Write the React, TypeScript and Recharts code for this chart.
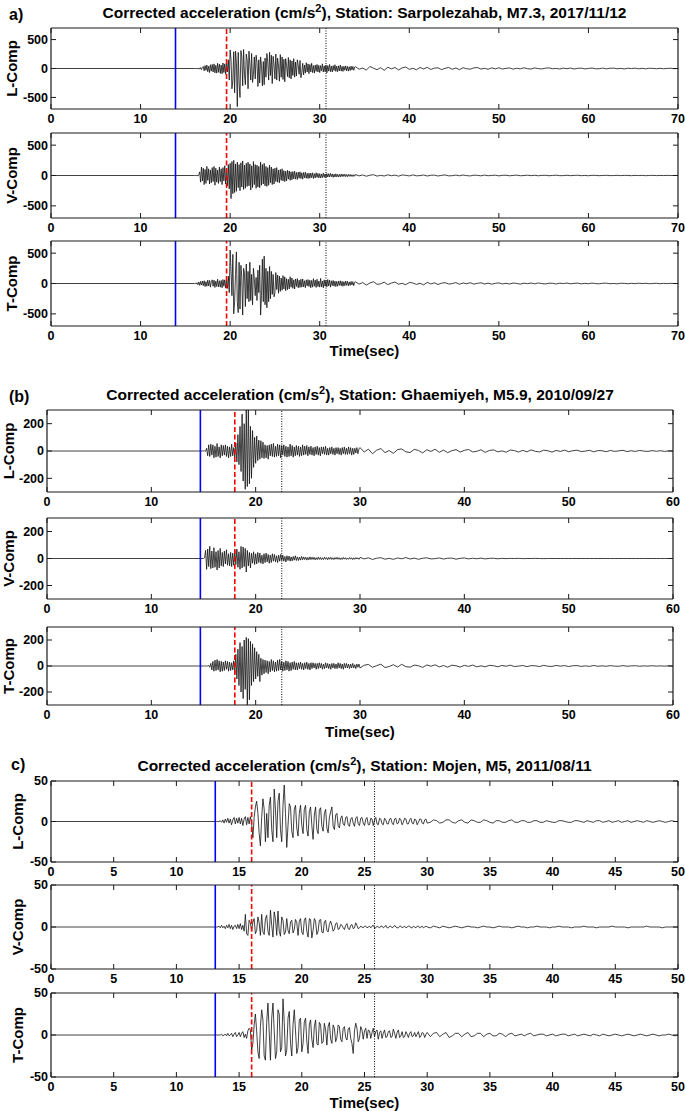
import React from 'react'
import { LineChart, Line, XAxis, YAxis, ReferenceLine } from 'recharts'

// sampling: main window every 0.1 s, then a coarser tail
const MAIN_STEP = 0.1

// ---------- a) Sarpolezahab, M7.3 ----------
const aMainStart = 16
const aTailStart = 34
const aTailStep = 0.4
const aTicksX = [0, 10, 20, 30, 40, 50, 60, 70]
const aTicksY = [-500, 0, 500]
const aMarks = { p: 13.9, s: 19.6, end: 30.7 }

const aL = [
  0, 2, -3, 5, -8, 10, -12, 15, -20, 18,
  35, -40, 50, -30, 60, -55, 40, -70, 65, -45,
  70, -60, 80, -75, 55, -80, 90, -65, 75, -85,
  60, -90, 95, -70, 80, -100, 110, -60, 150, -200,
  320, 150, -350, -200, 290, -420, 300, 100, -660, 280,
  -250, -500, 310, 200, -300, 330, -100, -280, 250, 150,
  -350, 300, 80, -200, 260, -240, -100, 200, -180, 230,
  100, -310, 150, -250, 200, 50, -300, 120, -280, 180,
  -150, 260, 100, -200, 280, -120, 230, -260, 210, 60,
  -180, 250, -200, 180, 40, -220, 240, -150, 200, -190,
  160, -230, 170, 50, -140, 190, -160, 150, -180, 130,
  -120, 170, -150, 110, -130, 150, 60, -100, 140, -160,
  -70, 90, -110, 60, -80, 100, -60, 80, -90, 70,
  -60, 90, -70, 50, -80, 60, -50, 70, -60, 55,
  -70, 50, -40, 80, -60, 45, -55, 60, -75, 50,
  -45, 70, -55, 40, -60, 50, -35, 65, -50, 40,
  -55, 45, -40, 60, -45, 35, -50, 40, -30, 45,
  -40, 35, -45, 30, -35, 40, -25, 35, -30, 25,
]
const aLTail = [
  30, -12, 8, -28, 35, 5, -20, 14, -30, 22,
  -6, 18, -25, 10, 26, -15, 4, -22, 18, -8,
  20, -16, 6, 12, -19, 3, 18, -14, 9, -21,
  14, -4, -12, 10, 17, -9, 2, -13, 11, -6,
  12, -10, 3, 9, -11, 5, -7, 12, -3, -9,
  10, -2, -8, 6, 11, -5, 2, -9, 7, -4,
  8, -9, 3, 6, -7, 1, 8, -5, -3, 7,
  -6, 4, 7, -4, 2, -7, 5, -1, 6, -5,
  3, -6, 5, 2, -4, 4, -5, 2, 4, -3,
  0,
]

const aV = [
  0, 3, -5, 8, -10, 12, 60, -110, 140, -90,
  120, -150, 100, -130, 150, -80, 110, -140, 90, -120,
  130, -100, 150, -160, 120, -110, 90, -130, 140, -100,
  110, -150, 130, -90, 160, -140, 120, -170, 180, -220,
  200, -380, 230, -300, 250, -280, 190, -260, 220, -200,
  180, -250, 210, -190, 240, -230, 170, -210, 200, -180,
  220, -170, 190, -240, 160, -200, 230, -150, 180, -210,
  170, -190, 150, -200, 220, -160, 180, -140, 200, -170,
  150, -180, 130, -160, 170, -120, 140, -150, 110, -140,
  120, -100, 130, -110, 90, -120, 100, -80, 110, -90,
  80, -100, 70, -90, 85, -60, 75, -80, 60, -70,
  65, -55, 70, -60, 50, -65, 55, -45, 60, -50,
  45, -60, 50, -40, 55, -45, 35, -50, 40, -45,
  40, -35, 45, -50, 30, -40, 45, -30, 35, -40,
  30, -40, 25, -35, 40, -30, 25, -35, 30, -25,
  30, -25, 35, -20, 25, -30, 20, -25, 28, -22,
  20, -25, 18, -22, 25, -18, 20, -16, 22, -18,
  16, -20, 18, -14, 17, -15, 12, -16, 14, -12,
]
const aVTail = [
  15, -6, 9, -12, 4, 13, -10, 2, -8, 11,
  -4, 7, -11, 9, 3, -7, 10, -5, -2, 8,
  -9, 4, 6, -8, 2, 9, -6, -3, 7, -5,
  8, -2, -7, 5, 3, -6, 7, -4, 1, 5,
  -6, 3, 4, -5, 2, 6, -4, -1, 5, -3,
  4, -5, 2, 3, -4, 1, 5, -3, -2, 4,
  -3, 2, 4, -3, 1, -4, 3, 2, -3, 1,
  3, -2, -1, 3, -2, 2, 1, -3, 2, -1,
  2, -3, 1, 2, -2, 1, -1, 2, -1, 1,
  0,
]

const aT = [
  0, 5, -8, 12, -20, 25, -30, 35, -25, 40,
  -35, 45, -50, 30, -45, 55, -40, 50, -60, 35,
  60, -45, 55, -65, 40, -50, 70, -55, 45, -60,
  50, -70, 65, -45, 60, -75, 55, -80, 120, -150,
  550, 200, -200, 480, -500, -300, 150, 520, -300, -480,
  350, -420, 300, 100, -520, 250, 180, -380, 320, -250,
  200, -300, 350, -280, 150, -350, 250, 80, -200, 100,
  -280, 220, -150, 300, -520, -200, 400, -300, 450, -350,
  250, -400, 200, -300, 280, -250, 200, -180, 150, -220,
  -150, 180, -100, 140, -160, 120, -130, 90, -110, 130,
  -90, 110, -120, 80, -100, 70, -90, 110, -60, 90,
  -80, 60, -90, 75, -50, 80, -70, 55, -65, 70,
  -60, 75, -55, 45, -70, 60, -40, 65, -50, 55,
  -70, 50, -60, 80, -45, 55, -65, 70, -50, 40,
  -60, 85, -55, 40, -70, 60, -45, 50, -55, 65,
  -40, 55, -60, 45, -35, 50, -45, 40, -50, 35,
  -45, 40, -30, 45, -40, 35, -45, 30, -35, 40,
  -30, 35, -40, 25, -30, 35, -25, 30, -35, 20,
]
const aTTail = [
  28, -10, 15, -26, 8, 30, -14, -5, 22, -18,
  6, 24, -12, 3, -20, 16, 9, -15, 4, -22,
  18, -7, 11, -16, 5, 14, -9, -2, 15, -12,
  9, -4, 13, -10, 2, 12, -8, 6, -11, 3,
  10, -7, 4, -9, 8, 1, -10, 6, -3, 8,
  -6, 9, -2, -7, 5, 3, -8, 6, -1, 7,
  -5, 2, 6, -6, 3, -4, 7, -2, -5, 4,
  6, -4, 1, -5, 4, 2, -4, 3, -3, 5,
  -2, 4, -4, 1, 3, -3, 2, -2, 3, -1,
  0,
]

// ---------- b) Ghaemiyeh, M5.9 ----------
const bMainStart = 15
const bTailStart = 30
const bTailStep = 0.4
const bTicksX = [0, 10, 20, 30, 40, 50, 60]
const bTicksY = [-200, 0, 200]
const bMarks = { p: 14.7, s: 18.0, end: 22.5 }

const bL = [
  0, 2, -3, 20, -35, 45, -40, 50, -30, 45,
  -50, 35, -45, 55, -40, 30, -50, 45, -35, 40,
  -30, 45, -40, 35, -50, 30, -40, 50, -35, 25,
  -45, 60, -80, 120, -100, 180, -150, 270, -220, 200,
  -280, 300, -260, 310, -240, 180, -200, 150, -120, 100,
  -90, 110, -70, 80, -60, 75, -50, 65, -55, 45,
  -50, 40, -60, 45, -35, 50, -40, 55, -45, 35,
  -40, 50, -35, 45, -50, 40, -30, 45, -40, 35,
  -45, 30, -40, 50, -35, 40, -45, 30, -35, 40,
  -30, 35, -40, 30, -35, 45, -30, 35, -25, 40,
  -35, 30, -25, 35, -30, 25, -35, 30, -25, 35,
  -30, 25, -35, 30, -20, 30, -25, 35, -30, 20,
  -30, 25, -20, 30, -25, 20, -30, 25, -20, 25,
  -25, 20, -30, 25, -20, 30, -25, 20, -25, 30,
  -20, 25, -30, 20, -25, 20, -15, 25, -20, 15,
]
const bLTail = [
  25, -8, 14, -20, 6, 18, -12, 3, -17, 10,
  15, -6, -11, 12, 4, -14, 9, -3, 13, -10,
  7, -12, 2, 10, -8, 5, 11, -7, -2, 9,
  -10, 4, 8, -6, 1, -9, 7, 3, -8, 5,
  -6, 8, -2, -7, 6, 2, -8, 4, -3, 6,
  -5, 2, 6, -4, -1, 5, -6, 3, 2, -5,
  4, -3, 1, 5, -4, 2, -3, 4, -1, -3,
  3, -2, 2, -3, 1, 0,
]

const bV = [
  0, 5, 60, -80, 70, -60, 90, -75, 55, -70,
  80, -65, 50, -85, 60, -70, 75, -55, 45, -60,
  55, -40, 65, -50, 35, -55, 45, -60, 40, -50,
  60, -45, 70, -65, 50, -80, 90, -70, 85, -60,
  75, -100, 60, -55, 45, -70, 40, -35, 50, -45,
  35, -40, 45, -30, 40, -35, 25, -40, 35, -30,
  40, -25, 30, -35, 25, -30, 35, -20, 30, -25,
  20, -30, 25, -20, 30, -15, 25, -20, 15, -25,
  20, -15, 18, -20, 12, -18, 15, -12, 20, -15,
  12, -15, 10, -12, 15, -10, 12, -8, 10, -12,
  8, -10, 12, -8, 10, -7, 9, -10, 6, -8,
  10, -7, 8, -9, 6, -8, 10, -6, 7, -9,
  8, -6, 9, -7, 5, -8, 7, -5, 9, -6,
  6, -8, 5, -7, 8, -5, 6, -7, 4, -6,
  7, -5, 6, -8, 5, -6, 7, -4, 5, -6,
]
const bVTail = [
  8, -3, 5, -7, 2, 6, -5, 1, -6, 4,
  -2, 7, -4, 3, -6, 2, 5, -3, -1, 4,
  -4, 2, 3, -5, 1, 4, -3, 2, -2, 3,
  -3, 1, 2, -2, 1, -1, 1, 0, 1, -1,
  0, 0, 1, 0, -1, 0, 0, 0, 0, 0,
  0, 0, 0, 0, 0, 0, 0, 0, 0, 0,
  0, 0, 0, 0, 0, 0, 0, 0, 0, 0,
  0, 0, 0, 0, 0, 0,
]

const bT = [
  0, 0, 0, 0, 0, 5, -10, 20, -30, 35,
  -40, 45, -35, 50, -30, 40, -45, 35, -40, 30,
  -35, 40, -25, 35, -40, 30, -35, 25, -30, 40,
  -60, 90, -100, 130, -150, 180, -200, 150, -250, 200,
  -180, 220, -300, 210, -260, 190, -150, 170, -120, 140,
  -100, 110, -80, 90, -120, 60, -70, 50, -60, 45,
  -50, 40, -60, 35, -45, 50, -35, 40, -45, 30,
  -40, 45, -35, 50, -30, 35, -40, 30, -35, 40,
  -30, 35, -40, 25, -35, 30, -25, 35, -30, 25,
  -30, 25, -20, 30, -25, 20, -30, 25, -20, 30,
  -25, 20, -30, 25, -20, 25, -15, 20, -25, 20,
  -20, 25, -15, 20, -25, 15, -20, 25, -15, 20,
  -20, 15, -25, 20, -15, 20, -20, 15, -20, 25,
  -15, 20, -20, 15, -25, 20, -15, 20, -15, 15,
  -20, 15, -15, 20, -15, 10, -20, 15, -10, 15,
]
const bTTail = [
  -15, 6, 12, -10, 3, 14, -12, -4, 10, -8,
  13, -5, -9, 7, 2, -11, 8, -2, 9, -7,
  4, -9, 6, 2, -8, 5, -3, 7, -6, 1,
  -6, 5, 2, -6, 4, -2, 6, -4, -1, 4,
  -5, 3, 1, -4, 5, -2, -3, 4, -1, 3,
  -4, 2, 3, -3, 1, -3, 4, -2, 1, -2,
  3, -1, -2, 3, -2, 1, 2, -2, 1, -1,
  2, -1, 1, -1, 1, 0,
]

// ---------- c) Mojen, M5 ----------
const cMainStart = 13
const cTailStart = 30
const cTailStep = 0.25
const cTicksX = [0, 5, 10, 15, 20, 25, 30, 35, 40, 45, 50]
const cTicksY = [-50, 0, 50]
const cMarks = { p: 13.1, s: 16.0, end: 25.8 }

const cL = [
  0, 0, 0, 0, 0, 1, -1, 2, -2, 3,
  -1, 4, -2, 3, -4, 2, 5, -3, 4, -2,
  5, -3, 4, -5, 3, 6, -4, 5, -3, 6,
  -2, -20, 5, 18, 25, 10, -15, -30, 5, 28,
  15, -25, 10, -20, 20, 30, -10, -25, 40, 15,
  -20, 25, 35, -10, -25, 20, 45, 10, -32, -5,
  22, 18, -12, -20, 15, 20, -8, -18, 10, 20,
  -5, -15, 15, 20, -10, -18, 12, 18, -5, -22,
  8, 18, -10, -15, 14, 17, -6, -12, 10, 15,
  -8, -14, 5, 12, 18, -6, -10, 8, 10, -5,
  -8, 4, 7, -3, -5, 5, 6, -4, -6, 3,
  5, -2, -6, 4, 6, -3, -5, 4, 5, -2,
  -5, 3, 5, -4, -4, 4, 3, -5, 2, 5,
  -3, -4, 4, 3, -3, -4, 4, 2, -3, -3,
  3, 4, -2, -4, 3, 4, -3, -2, 4, 2,
  -4, -1, 4, 3, -3, -3, 2, 4, -2, -3,
  3, 2, -4, -1, 3, 3, -2, -3, 2, 3,
]
const cLTail = [
  -2, -1, 2, 1, -2, -1, 2, 2, -1, -2,
  1, 2, -1, -2, 2, 1, -1, -1, 2, 1,
  -1, -2, 1, 1, -1, -1, 1, 2, -1, -1,
  1, 1, -1, -1, 1, 1, -1, -1, 1, 0,
  -1, -1, 1, 1, 0, -1, -1, 1, 1, 0,
  -1, 1, 0, -1, 1, 1, -1, 0, 1, -1,
  0, 1, -1, 0, 1, -1, 0, 1, 0, -1,
  1, 0, -1, 0, 1, 0, -1, 0, 1, 0,
  0,
]

const cV = [
  0, 0, 0, 0, 1, -1, 2, -1, 1, -2,
  2, -1, 3, -2, 2, -3, 1, 2, -2, 3,
  -2, 4, -3, 2, -5, 15, -8, -10, 8, 5,
  -5, 6, 10, -8, -4, 12, 5, -10, 15, -6,
  -9, 10, 14, -5, -10, 20, 2, -12, 18, 10,
  -10, 19, -5, -11, 12, 8, -9, -6, 10, -4,
  -8, 6, 8, -7, -3, 9, 5, -10, 7, 10,
  -6, -9, 8, 11, -5, -12, 10, 9, -13, -4,
  10, 7, -9, -5, 8, 9, -6, -7, 6, 8,
  -4, -6, 3, 7, 2, -5, -3, 4, 5, -3,
  -2, 3, 2, -1, -3, 2, 4, -2, -3, 2,
  3, -2, -1, 5, 2, -2, -1, 1, 0, -1,
  1, 1, -1, 0, 1, -1, 1, 2, -1, -1,
  1, 0, -1, 1, 1, -1, 0, 2, -1, -1,
  1, 1, -1, 0, 2, 0, -1, -1, 1, 1,
  -1, 0, 1, -1, 0, 1, 1, -1, -1, 1,
  0, -1, 1, 1, -1, 0, 1, -1, 0, 1,
]
const cVTail = [
  0, -1, 1, 0, -1, 1, 0, -1, 0, 1,
  0, -1, 0, 1, 0, 0, -1, 0, 1, 0,
  0, -1, 0, 1, 0, 0, 0, -1, 0, 1,
  0, 0, -1, 0, 0, 1, 0, 0, 0, -1,
  0, 0, 1, 0, 0, 0, -1, 0, 0, 0,
  1, 0, 0, 0, -1, 0, 0, 0, 0, 1,
  0, 0, 0, 0, -1, 0, 0, 0, 0, 0,
  1, 0, 0, 0, 0, -1, 0, 0, 0, 0,
  0,
]

const cT = [
  0, 0, 0, 0, 0, 0, 1, -1, 0, 1,
  -1, 2, -1, 0, 2, -2, 1, 3, -2, 0,
  3, -2, 2, 4, -3, 1, -4, 5, 8, 6,
  -18, -10, 12, 25, 5, -20, -28, 10, 30, 18,
  -25, -30, 15, 38, 5, -30, 20, 38, 5, -28,
  -20, 30, 25, -20, -15, 43, 15, -25, -18, 20,
  28, -10, -25, 12, 30, 5, -22, -15, 18, 20,
  -20, -10, 15, 20, -8, -22, 12, 18, -5, -15,
  10, 18, -10, -12, 15, 12, -10, -8, 14, 6,
  -12, 10, 15, -5, -10, 12, 8, -8, -3, 12,
  10, -5, -8, 8, 10, -3, -6, 7, 9, -4,
  -10, -22, 5, 14, 8, -8, -4, 10, 6, -5,
  5, 8, -4, 6, 5, -4, 3, 8, -2, 4,
  6, -5, 3, 5, -4, 2, 6, -3, -2, 4,
  5, -3, -2, 7, 2, -4, 3, 6, -3, -1,
  4, -3, -2, 4, 1, -3, 2, 4, -2, -1,
  3, -2, 1, 4, -3, -1, 3, 2, -3, 1,
]
const cTTail = [
  3, -2, 2, 3, -2, 1, 3, -3, -1, 2,
  2, -2, 1, 3, -2, -1, 2, 2, -2, 1,
  2, -1, -1, 2, 1, -2, 1, 2, -1, 0,
  1, -1, 1, 2, -1, 0, 1, 1, -1, 0,
  1, -1, 0, 1, 1, -1, 0, 1, -1, 0,
  1, 0, -1, 1, 0, -1, 1, 0, -1, 0,
  1, 0, -1, 0, 1, 0, -1, 0, 1, 0,
  -1, 0, 1, 0, -1, 0, 0, 1, 0, -1,
  0,
]

const COMPONENTS = ['L-Comp', 'V-Comp', 'T-Comp']

const round2 = (x: number) => Math.round(x * 100) / 100

function buildSeries(mainStart: number, main: number[], tailStart: number, tailStep: number, tail: number[]) {
  const pts = [{ t: 0, v: 0 }]
  main.forEach((v, i) => pts.push({ t: round2(mainStart + i * MAIN_STEP), v }))
  tail.forEach((v, i) => pts.push({ t: round2(tailStart + i * tailStep), v }))
  return pts
}

const events = [
  {
    id: 'a',
    letter: 'a)',
    station: 'Sarpolezahab, M7.3, 2017/11/12',
    xMax: 70,
    yMax: 700,
    xTicks: aTicksX,
    yTicks: aTicksY,
    marks: aMarks,
    series: [
      buildSeries(aMainStart, aL, aTailStart, aTailStep, aLTail),
      buildSeries(aMainStart, aV, aTailStart, aTailStep, aVTail),
      buildSeries(aMainStart, aT, aTailStart, aTailStep, aTTail),
    ],
  },
  {
    id: 'b',
    letter: '(b)',
    station: 'Ghaemiyeh, M5.9, 2010/09/27',
    xMax: 60,
    yMax: 300,
    xTicks: bTicksX,
    yTicks: bTicksY,
    marks: bMarks,
    series: [
      buildSeries(bMainStart, bL, bTailStart, bTailStep, bLTail),
      buildSeries(bMainStart, bV, bTailStart, bTailStep, bVTail),
      buildSeries(bMainStart, bT, bTailStart, bTailStep, bTTail),
    ],
  },
  {
    id: 'c',
    letter: 'c)',
    station: 'Mojen, M5, 2011/08/11',
    xMax: 50,
    yMax: 50,
    xTicks: cTicksX,
    yTicks: cTicksY,
    marks: cMarks,
    series: [
      buildSeries(cMainStart, cL, cTailStart, cTailStep, cLTail),
      buildSeries(cMainStart, cV, cTailStart, cTailStep, cVTail),
      buildSeries(cMainStart, cT, cTailStart, cTailStep, cTTail),
    ],
  },
]

// page layout (pixels)
const layout: Record<string, any> = {
  a: { left: 51, right: 678, rows: [[28, 109], [133, 218], [241, 326]], titleY: 17.5, letterY: 19.5, letterX: 9, ylabX: 17, timeY: 356 },
  b: { left: 47, right: 673, rows: [[410, 492], [518, 599], [627, 705]], titleY: 399.5, letterY: 402, letterX: 9, ylabX: 14, timeY: 737 },
  c: { left: 51, right: 678, rows: [[781, 862], [885, 969], [993, 1077]], titleY: 770.5, letterY: 770, letterX: 11, ylabX: 23, timeY: 1108 },
}

const FONT = "'Liberation Sans', Arial, Helvetica, sans-serif"
const PAGE_W = 685
const AXIS_COLOR = '#1a1a1a'
const axisLine = { stroke: AXIS_COLOR, strokeWidth: 1.2 }
const tickLine = { stroke: AXIS_COLOR, strokeWidth: 1 }
const tickText = { fill: '#000', fontSize: 12.5, fontWeight: 'bold', fontFamily: FONT }

function Trace({ data, top, bottom, left, right, ev }: any) {
  const mTop = 6
  const axisH = 26
  const plotH = bottom - top
  return (
    <div style={{ position: 'absolute', left: 0, top: top - mTop }}>
      <LineChart
        width={PAGE_W}
        height={mTop + plotH + axisH}
        data={data}
        margin={{ top: mTop - 1, right: PAGE_W - right - 1, bottom: 0, left: 0 }}
      >
        <XAxis
          xAxisId="x"
          type="number"
          dataKey="t"
          domain={[0, ev.xMax]}
          ticks={ev.xTicks}
          interval={0}
          allowDataOverflow
          height={axisH}
          tickSize={-5}
          tickMargin={10}
          axisLine={axisLine}
          tickLine={tickLine}
          tick={tickText}
        />
        <XAxis
          xAxisId="xt"
          orientation="top"
          type="number"
          dataKey="t"
          domain={[0, ev.xMax]}
          ticks={ev.xTicks}
          interval={0}
          allowDataOverflow
          height={1}
          tickSize={-5}
          tickFormatter={() => ''}
          axisLine={axisLine}
          tickLine={tickLine}
        />
        <YAxis
          yAxisId="y"
          type="number"
          domain={[-ev.yMax, ev.yMax]}
          ticks={ev.yTicks}
          interval={0}
          allowDataOverflow
          width={left}
          tickSize={-5}
          tickMargin={8}
          axisLine={axisLine}
          tickLine={tickLine}
          tick={tickText}
        />
        <YAxis
          yAxisId="yr"
          orientation="right"
          type="number"
          domain={[-ev.yMax, ev.yMax]}
          ticks={ev.yTicks}
          interval={0}
          allowDataOverflow
          width={1}
          tickSize={-5}
          tickFormatter={() => ''}
          axisLine={axisLine}
          tickLine={tickLine}
        />
        <Line
          xAxisId="x"
          yAxisId="y"
          type="linear"
          dataKey="v"
          stroke="#111"
          strokeWidth={0.8}
          dot={false}
          activeDot={false}
          isAnimationActive={false}
        />
        <ReferenceLine xAxisId="x" yAxisId="y" x={ev.marks.p} stroke="#0000ff" strokeWidth={1.6} />
        <ReferenceLine xAxisId="x" yAxisId="y" x={ev.marks.s} stroke="#ff0000" strokeWidth={1.6} strokeDasharray="5 2.5" />
        <ReferenceLine xAxisId="x" yAxisId="y" x={ev.marks.end} stroke="#000" strokeWidth={1} strokeDasharray="1 1.5" />
      </LineChart>
    </div>
  )
}

export default function App() {
  return (
    <div style={{ position: 'absolute', left: 0, top: 0, width: PAGE_W, height: 1111, background: '#fff', fontFamily: FONT }}>
      {events.map((ev) => {
        const lay = layout[ev.id]
        return ev.series.map((data, i) => (
          <Trace
            key={ev.id + i}
            data={data}
            top={lay.rows[i][0]}
            bottom={lay.rows[i][1]}
            left={lay.left}
            right={lay.right}
            ev={ev}
          />
        ))
      })}
      <svg width={PAGE_W} height={1111} style={{ position: 'absolute', left: 0, top: 0, pointerEvents: 'none' }}>
        {events.map((ev) => {
          const lay = layout[ev.id]
          const cx = (lay.left + lay.right) / 2
          return (
            <g key={ev.id} fontFamily={FONT} fontWeight="bold" fill="#000">
              <text x={lay.letterX} y={lay.letterY} fontSize={16}>{ev.letter}</text>
              <text x={cx} y={lay.titleY} fontSize={15.5} textAnchor="middle">
                Corrected acceleration (cm/s
                <tspan dy={-6} fontSize={11}>2</tspan>
                <tspan dy={6}>), Station: {ev.station}</tspan>
              </text>
              {COMPONENTS.map((name, i) => {
                const cy = (lay.rows[i][0] + lay.rows[i][1]) / 2
                return (
                  <text key={name} x={lay.ylabX} y={cy} fontSize={15} textAnchor="middle" transform={`rotate(-90 ${lay.ylabX} ${cy})`}>
                    {name}
                  </text>
                )
              })}
              <text x={cx} y={lay.timeY} fontSize={15} textAnchor="middle">Time(sec)</text>
            </g>
          )
        })}
      </svg>
    </div>
  )
}
